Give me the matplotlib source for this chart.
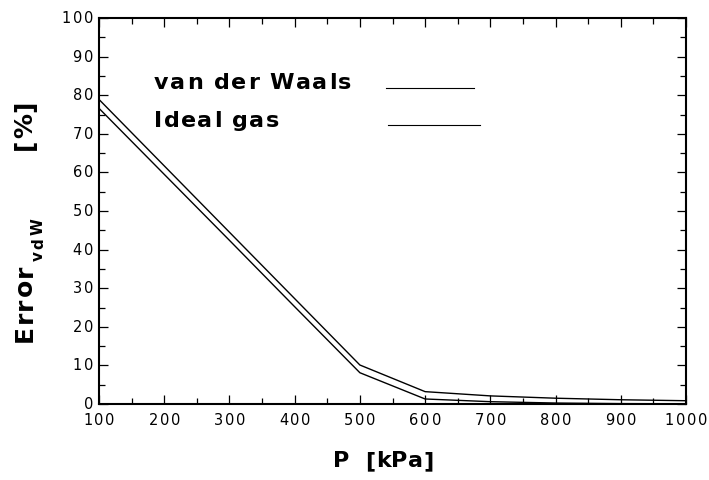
import matplotlib
matplotlib.use("Agg")
import matplotlib.pyplot as plt
from matplotlib.transforms import IdentityTransform
from matplotlib.font_manager import FontProperties, findfont
from matplotlib.ft2font import FT2Font
from matplotlib.ticker import MultipleLocator

# ---- data ----
pressure = [100, 200, 300, 400, 500, 600, 700, 800, 900, 1000]
error_vdw = [78.9, 61.7, 44.5, 27.3, 10.1, 3.2, 2.1, 1.5, 1.1, 0.85]
error_ideal = [76.6, 59.5, 42.4, 25.2, 8.1, 1.3, 0.6, 0.25, 0.1, 0.05]
series_labels = ["van der Waals", "Ideal gas"]
x_ticks = [100, 200, 300, 400, 500, 600, 700, 800, 900, 1000]
y_ticks = [0, 10, 20, 30, 40, 50, 60, 70, 80, 90, 100]
x_label = "P  [kPa]"
y_label_main = "Error"
y_label_sub = "vdW"
y_label_unit = "[%]"

W, H, DPI = 709, 480, 100
FAMILY = "DejaVu Sans"

fig = plt.figure(figsize=(W / DPI, H / DPI), dpi=DPI)
fig.patch.set_facecolor("white")
ax = fig.add_axes([99 / W, (H - 404) / H, 587 / W, 386 / H])

ax.plot(pressure, error_vdw, color="black", lw=1.0)
ax.plot(pressure, error_ideal, color="black", lw=1.0)

ax.set_xlim(100, 1000)
ax.set_ylim(0, 100)
ax.xaxis.set_major_locator(MultipleLocator(100))
ax.xaxis.set_minor_locator(MultipleLocator(50))
ax.yaxis.set_major_locator(MultipleLocator(10))
ax.yaxis.set_minor_locator(MultipleLocator(5))
ax.tick_params(which="both", direction="in", top=True, right=True,
               labelbottom=False, labelleft=False, width=0.9, color="black")
ax.tick_params(which="major", length=6.5)
ax.tick_params(which="minor", length=4)
for sp in ax.spines.values():
    sp.set_linewidth(1.5)


def advances(s, weight, size):
    fp = FontProperties(family=FAMILY, weight=weight, size=size)
    font = FT2Font(findfont(fp))
    font.set_size(size, DPI)
    return [font.load_char(ord(c)).linearHoriAdvance / 65536 for c in s]


def tracked(x, y, s, size, weight="normal", track=0.0, ha="left", rotation=0):
    """x, y in pixels from the top-left corner of the image."""
    advs = advances(s, weight, size)
    total = sum(advs) + track * (len(s) - 1)
    start = {"left": 0.0, "center": -total / 2, "right": -total}[ha]
    pos = start
    dy = H - y
    for c, a in zip(s, advs):
        if c != " ":
            if rotation == 0:
                px, py = x + pos, dy
            else:
                px, py = x, dy + pos
            fig.text(px, py, c, transform=IdentityTransform(), fontsize=size,
                     fontweight=weight, family=FAMILY, ha="left", va="baseline",
                     rotation=rotation, rotation_mode="anchor")
        pos += a + track
    return pos


fig.canvas.draw()
# tick labels
for v in x_ticks:
    px, _ = ax.transData.transform((v, 0))
    tracked(px, 425, str(v), 10.5, track=1.8, ha="center")
for v in y_ticks:
    _, py = ax.transData.transform((100, v))
    tracked(93, H - py + 5, str(v), 10.5, track=1.8, ha="right")

# axis labels
tracked(383, 467, x_label, 16, weight="bold", track=0.3, ha="center")
end = tracked(32, 342, y_label_main, 18, weight="bold", track=1.5, rotation=90)
tracked(43, 342 - end - 2, y_label_sub, 11, weight="bold", track=2.5, rotation=90)
tracked(32, 150, y_label_unit, 18, weight="bold", track=1.0, rotation=90)

# legend
tracked(154, 89, series_labels[0], 16, weight="bold", track=1.6)
tracked(154, 127, series_labels[1], 16, weight="bold", track=1.4)
fig.add_artist(plt.Line2D([385.7, 474], [H - 88.3, H - 88.3], transform=IdentityTransform(),
                          color="black", lw=0.8))
fig.add_artist(plt.Line2D([387.7, 480], [H - 125, H - 125], transform=IdentityTransform(),
                          color="black", lw=0.8))

fig.savefig("out.png", dpi=DPI)
